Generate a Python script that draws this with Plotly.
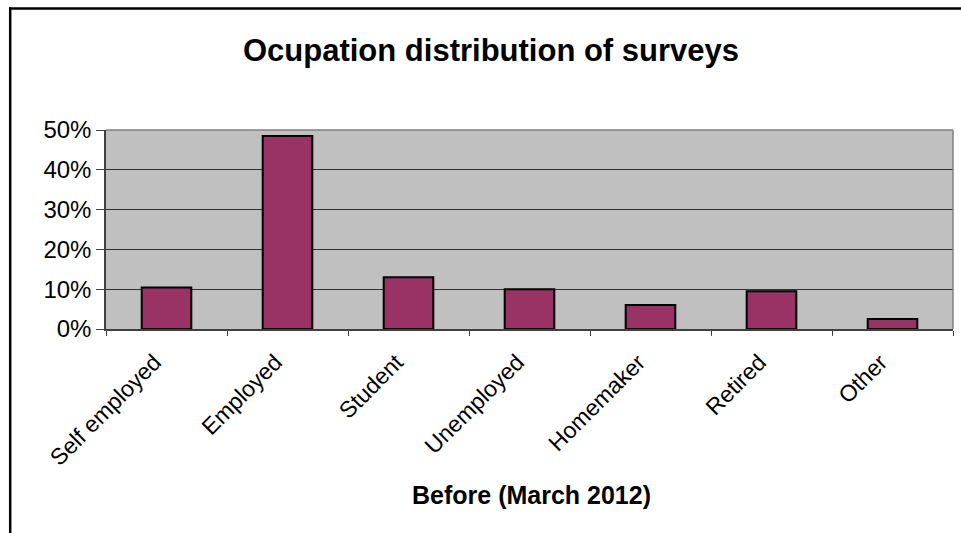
import plotly.graph_objects as go

# Occupation shares of survey respondents (fractions of total)
occupations = ["Self employed", "Employed", "Student", "Unemployed",
               "Homemaker", "Retired", "Other"]
shares = [0.104, 0.485, 0.13, 0.10, 0.06, 0.095, 0.025]
y_ticks = [0, 0.1, 0.2, 0.3, 0.4, 0.5]

W, H = 961, 533
L, R, T, B = 106, 8, 130, 204
plot_w = W - L - R
plot_h = H - T - B


def px_x(px):
    return (px - L) / plot_w


def px_y(py):
    return (H - B - py) / plot_h


FONT = "Arial, Liberation Sans, sans-serif"

fig = go.Figure(
    go.Bar(
        x=occupations,
        y=shares,
        marker=dict(color="#993366", line=dict(color="black", width=2)),
        width=0.41,
    )
)

fig.update_layout(
    width=W,
    height=H,
    margin=dict(l=L, r=R, t=T, b=B),
    paper_bgcolor="white",
    plot_bgcolor="#C0C0C0",
    showlegend=False,
    title=dict(
        text="<b>Ocupation distribution of surveys</b>",
        x=491 / W,
        xanchor="center",
        y=1 - 50 / H,
        yanchor="middle",
        font=dict(family=FONT, size=31, color="black"),
    ),
    xaxis=dict(
        type="category",
        tickson="boundaries",
        ticks="outside",
        ticklen=5,
        tickcolor="#404040",
        tickangle=-45,
        ticklabelshift=-12,
        ticklabelstandoff=9,
        tickfont=dict(family=FONT, size=23, color="black"),
        showline=True,
        linecolor="#404040",
        linewidth=1.5,
        showgrid=False,
    ),
    yaxis=dict(
        range=[0, 0.5],
        tickvals=y_ticks,
        tickformat=".0%",
        ticks="outside",
        ticklen=8,
        tickcolor="#404040",
        tickfont=dict(family=FONT, size=24, color="black"),
        showline=True,
        linecolor="#404040",
        linewidth=1.5,
        gridcolor="#303030",
        gridwidth=1,
        zeroline=False,
    ),
    annotations=[
        dict(
            text="<b>Before (March 2012)</b>",
            xref="paper", yref="paper",
            x=px_x(531), y=px_y(495),
            xanchor="center", yanchor="middle",
            showarrow=False,
            font=dict(family=FONT, size=25, color="black"),
        )
    ],
    shapes=[
        # chart frame: top and left edges
        dict(type="line", xref="paper", yref="paper",
             x0=px_x(9), x1=px_x(W + 5), y0=px_y(8.5), y1=px_y(8.5),
             line=dict(color="black", width=2.5)),
        dict(type="line", xref="paper", yref="paper",
             x0=px_x(10.2), x1=px_x(10.2), y0=px_y(7.5), y1=px_y(H + 5),
             line=dict(color="black", width=2.5)),
        # right edge of plot area
        dict(type="line", xref="paper", yref="paper",
             x0=1, x1=1, y0=0, y1=1,
             line=dict(color="#808080", width=1.5)),
        # top edge of plot area
        dict(type="line", xref="paper", yref="paper",
             x0=0, x1=1, y0=1, y1=1,
             line=dict(color="#808080", width=1.5)),
    ],
)

fig.write_html("out.html")
